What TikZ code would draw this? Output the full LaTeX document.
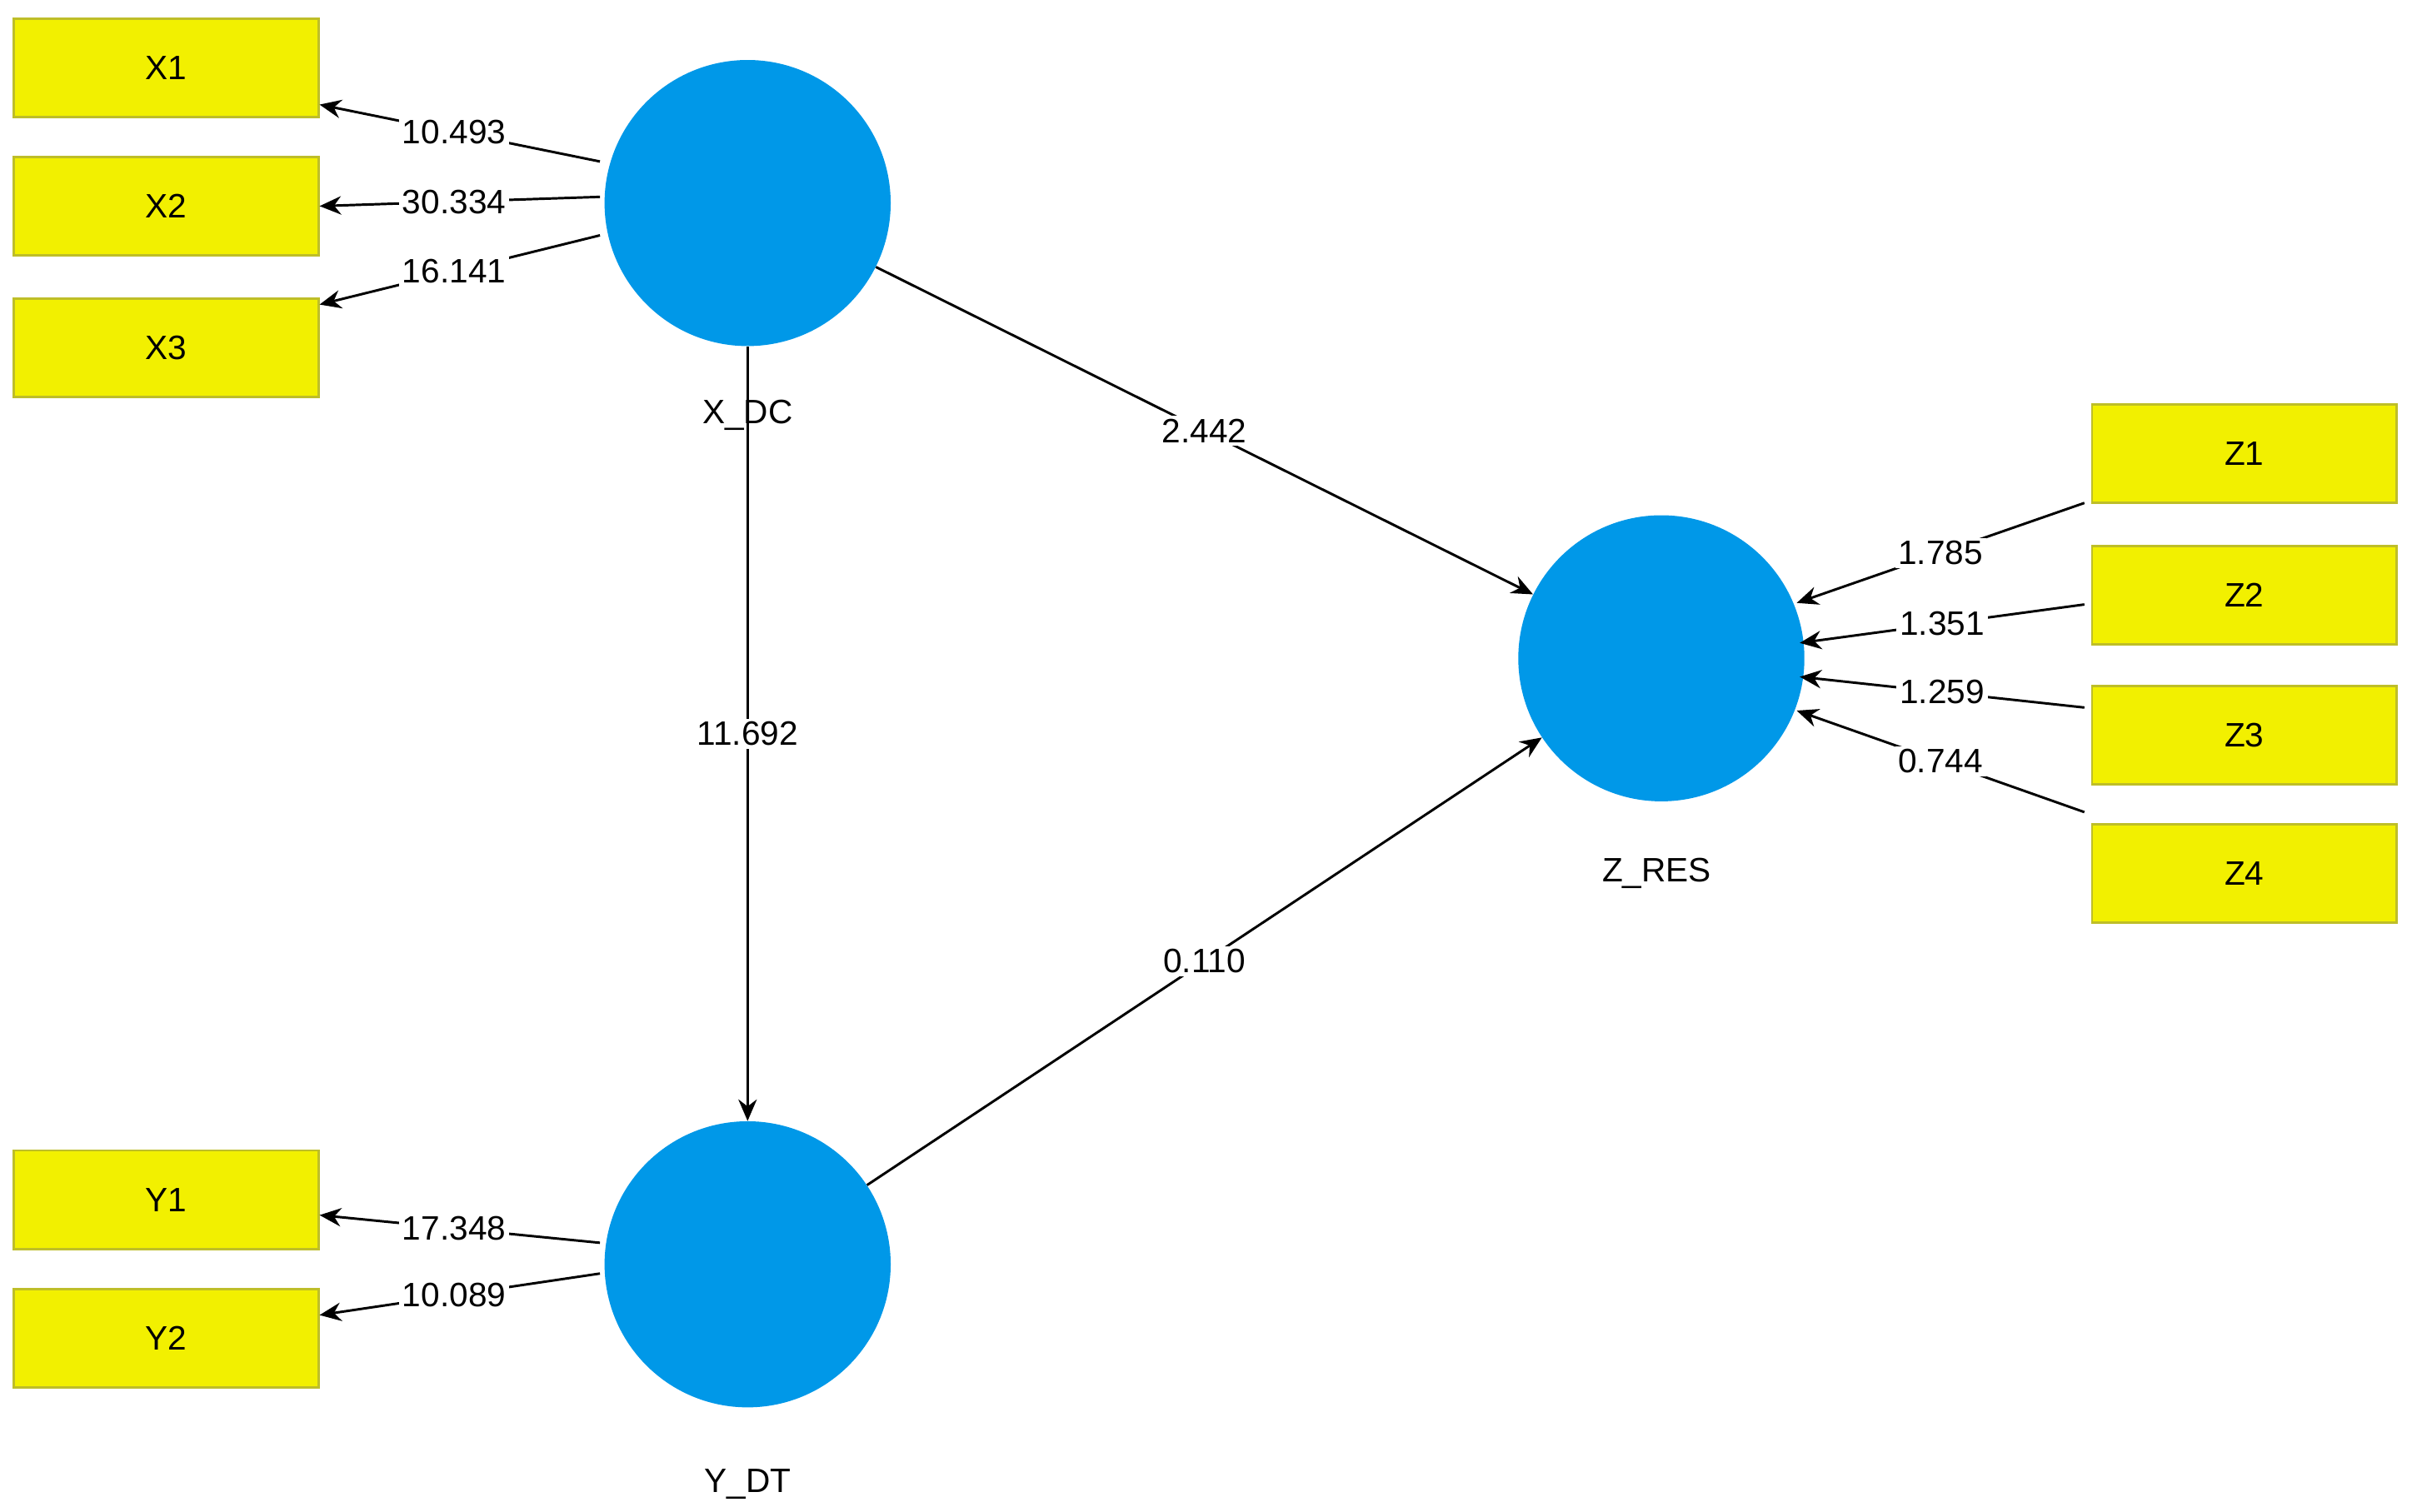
\documentclass[tikz,border=0pt]{standalone}
\usepackage{fontspec}
\setmainfont{Liberation Sans}
\usetikzlibrary{arrows.meta}
\definecolor{lv}{RGB}{0,152,232}
\definecolor{ind}{RGB}{242,240,0}
\definecolor{indb}{RGB}{190,190,40}
\begin{document}
\begin{tikzpicture}[x=1pt,y=-1pt,
  lat/.style={circle,fill=lv,minimum size=186pt,inner sep=0},
  box/.style={rectangle,fill=ind,draw=indb,line width=1.5pt,minimum width=198pt,minimum height=64pt,font=\fontsize{22}{24}\selectfont},
  lbl/.style={font=\fontsize{22}{24}\selectfont},
  wl/.style={fill=white,inner sep=2pt,font=\fontsize{22}{24}\selectfont},
  arr/.style={line width=1.6pt,-{Stealth[length=14pt,width=12pt]}},
  ln/.style={line width=1.6pt}]
\useasboundingbox (0,0) rectangle (1568,983);
\node[lat] (X) at (486,132) {};
\node[lat] (Y) at (486,822) {};
\node[lat] (Z) at (1080,428) {};
\node[lbl] (Xl) at (486,270) {X\_DC};
\node[lbl] (Yl) at (486,965) {Y\_DT};
\node[lbl] (Zl) at (1077,568) {Z\_RES};
\node[box] (X1) at (108,44) {X1};
\node[box] (X2) at (108,134) {X2};
\node[box] (X3) at (108,226) {X3};
\node[box] (Y1) at (108,780) {Y1};
\node[box] (Y2) at (108,870) {Y2};
\node[box] (Z1) at (1459,295) {Z1};
\node[box] (Z2) at (1459,387) {Z2};
\node[box] (Z3) at (1459,478) {Z3};
\node[box] (Z4) at (1459,568) {Z4};
\coordinate (xa) at (390,105); \coordinate (xb) at (390,128); \coordinate (xc) at (390,153);
\coordinate (ya) at (390,808); \coordinate (yb) at (390,828);
\draw[arr] (xa) -- node[wl,pos=0.52]{10.493} (X1.east|-0,68);
\draw[arr] (xb) -- node[wl,pos=0.52]{30.334} (X2.east);
\draw[arr] (xc) -- node[wl,pos=0.52]{16.141} (X3.east|-0,198);
\draw[arr] (ya) -- node[wl,pos=0.52]{17.348} (Y1.east|-0,790);
\draw[arr] (yb) -- node[wl,pos=0.52]{10.089} (Y2.east|-0,855);
\coordinate (za) at (1355,327); \coordinate (zb) at (1355,393);
\coordinate (zc) at (1355,460); \coordinate (zd) at (1355,528);
\coordinate (zt) at (1168,392); \coordinate (zu) at (1170,418);
\coordinate (zv) at (1170,440); \coordinate (zw) at (1168,462);
\draw[arr] (za) -- node[wl,pos=0.5]{1.785} (zt);
\draw[arr] (zb) -- node[wl,pos=0.5]{1.351} (zu);
\draw[arr] (zc) -- node[wl,pos=0.5]{1.259} (zv);
\draw[arr] (zd) -- node[wl,pos=0.5]{0.744} (zw);
\draw[arr] (X) -- node[wl,pos=0.5]{2.442} (Z);
\draw[arr] (X) -- node[wl,pos=0.5]{11.692} (Y);
\draw[arr] (Y) -- node[wl,pos=0.5]{0.110} (Z);
\end{tikzpicture}
\end{document}
